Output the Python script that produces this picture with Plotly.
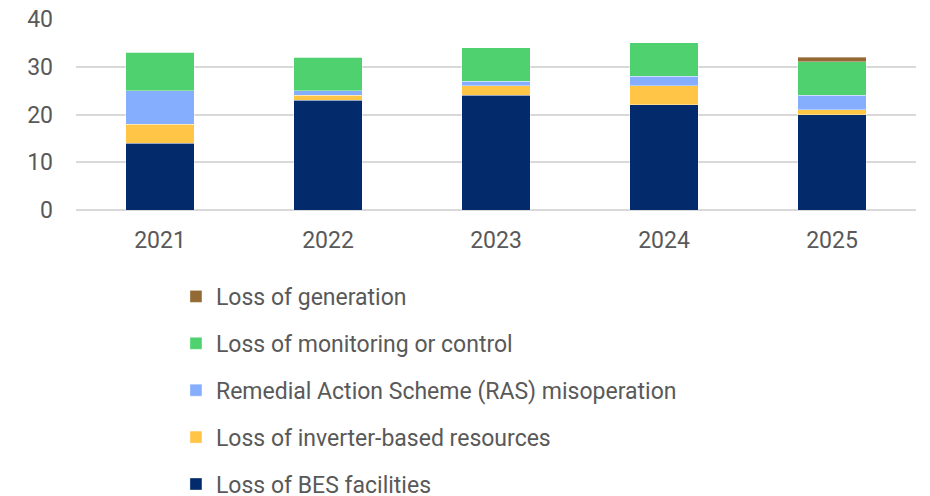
import plotly.graph_objects as go

years = ["2021", "2022", "2023", "2024", "2025"]
bes = [14, 23, 24, 22, 20]
ibr = [4, 1, 2, 4, 1]
ras = [7, 1, 1, 2, 3]
mon = [8, 7, 7, 7, 7]
gen = [0, 0, 0, 0, 1]

series = [
    ("Loss of BES facilities", bes, "#032A6B"),
    ("Loss of inverter-based resources", ibr, "#FFC547"),
    ("Remedial Action Scheme (RAS) misoperation", ras, "#86AEFE"),
    ("Loss of monitoring or control", mon, "#4ED16E"),
    ("Loss of generation", gen, "#946A34"),
]

fig = go.Figure()
n = len(series)
for i, (name, vals, col) in enumerate(series):
    fig.add_trace(go.Bar(
        x=years, y=vals, name=name, legendgroup=str(i), legendrank=n - i,
        marker=dict(color=col, line=dict(width=0.6, color="rgba(255,255,255,0.6)")),
    ))

# the page body adds an 8px offset, so the figure is sized to the visible area
fig.update_layout(
    barmode="stack",
    bargap=0.595,
    width=922, height=488,
    margin=dict(l=68, r=14, t=11, b=286, autoexpand=False),
    paper_bgcolor="white", plot_bgcolor="white",
    font=dict(family="Roboto", size=23, color="#595959"),
    showlegend=True,
    legend=dict(
        orientation="v", x=0.119, xanchor="left", y=-0.34, yanchor="top",
        traceorder="grouped", tracegroupgap=14,
        font=dict(size=23, color="#595959"),
    ),
    xaxis=dict(showgrid=False, showline=False, ticks="", tickfont=dict(size=23),
               ticklabelstandoff=14),
    yaxis=dict(range=[0, 40], dtick=10, showgrid=True, gridcolor="#D9D9D9", gridwidth=1.5,
               zeroline=True, zerolinecolor="#D9D9D9", zerolinewidth=1.5,
               ticks="", tickfont=dict(size=23), ticklabelstandoff=22,
               ticklabeloverflow="allow"),
)

fig.write_html("out.html")
